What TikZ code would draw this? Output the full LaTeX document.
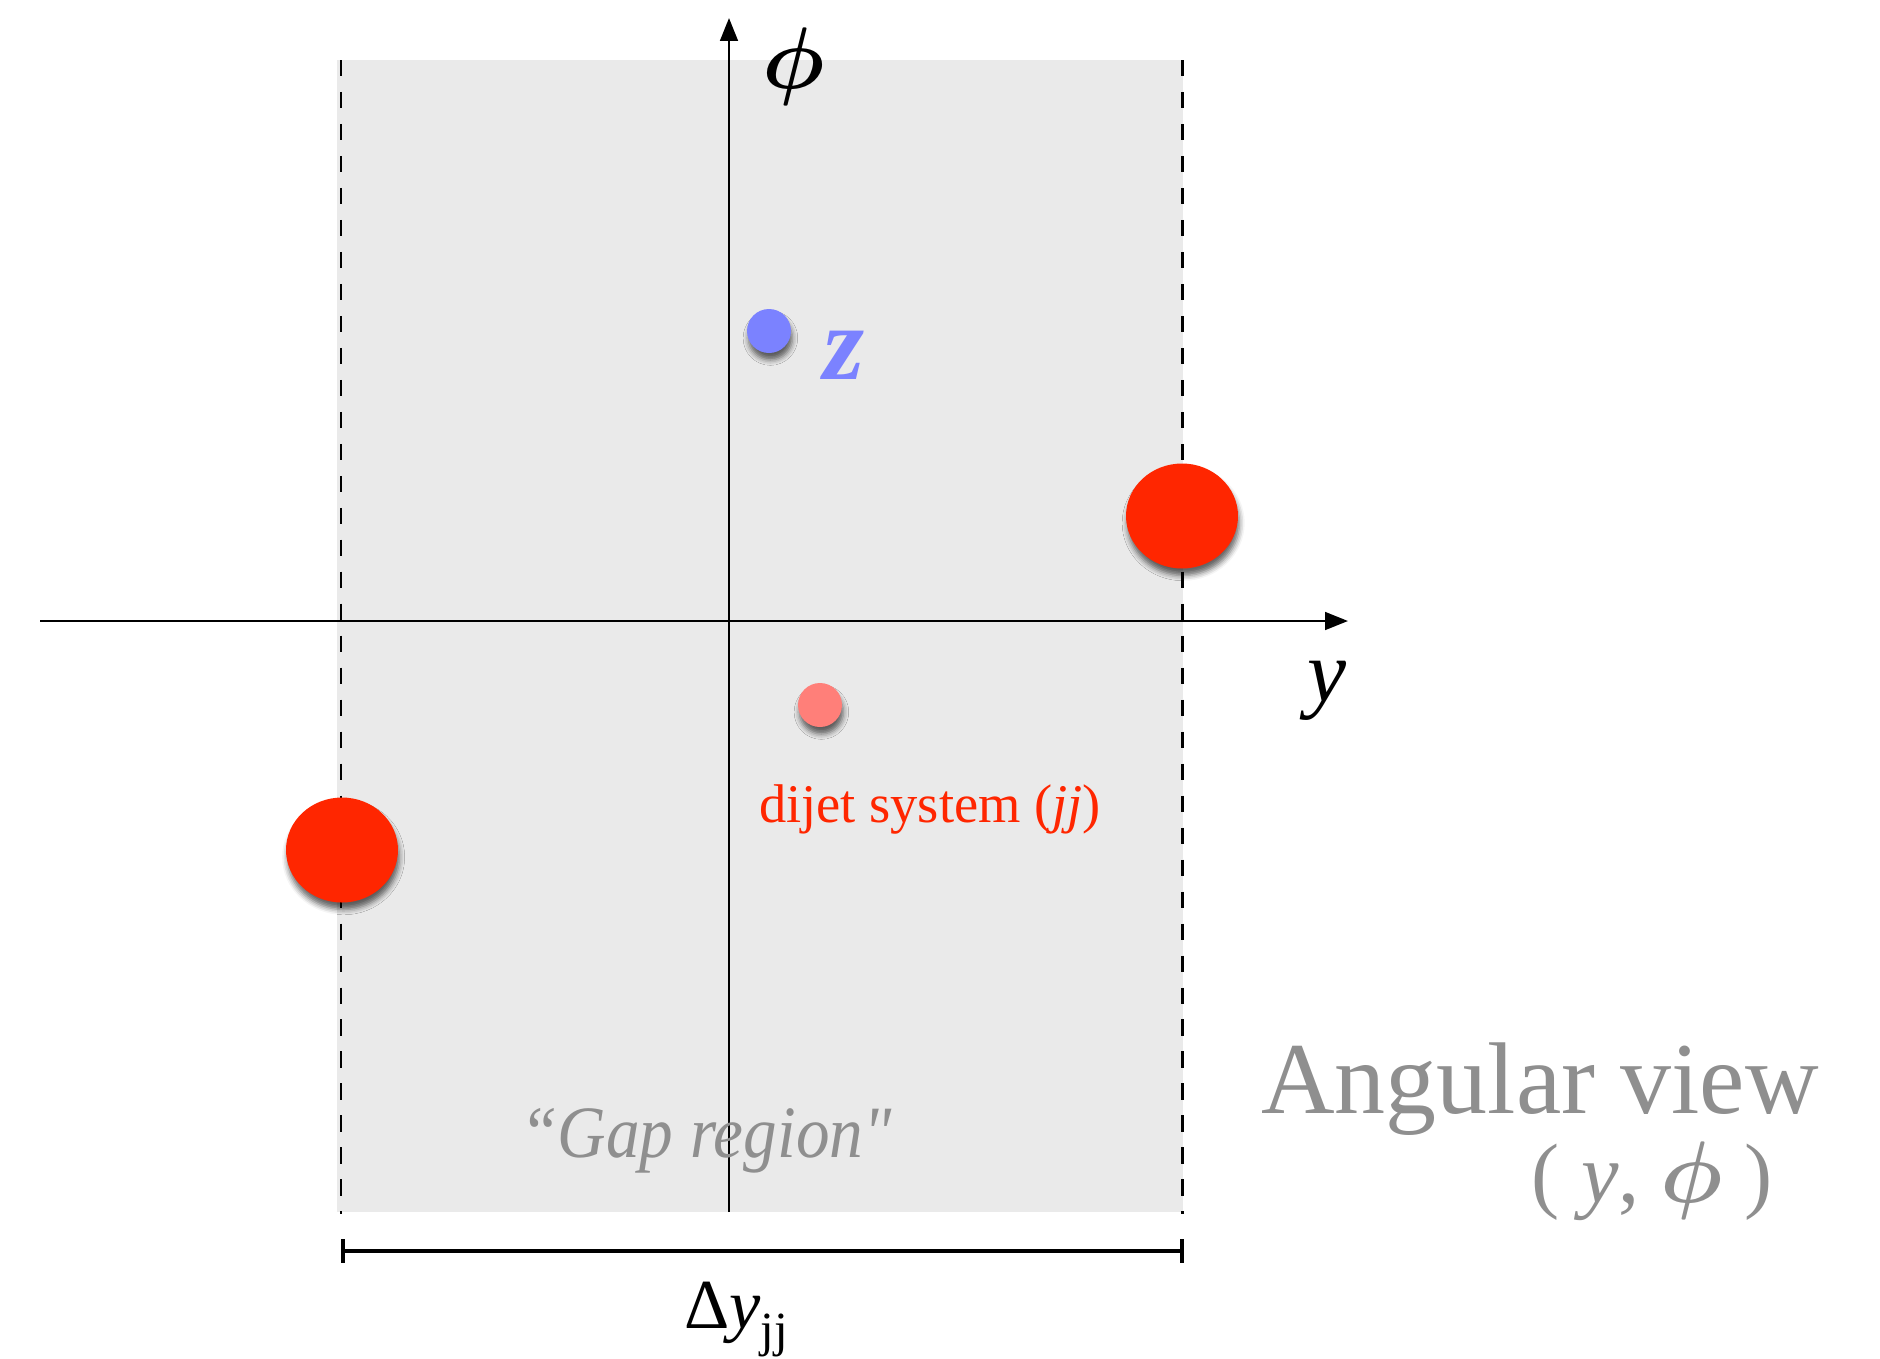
\documentclass[tikz,border=0pt]{standalone}
\usepackage{bm}
\usepackage{fontspec}
\setmainfont{Liberation Serif}
\newfontfamily\gapfont{Liberation Serif}[Ligatures=ResetAll]
\usetikzlibrary{arrows.meta,shapes.geometric,shadows.blur}
\definecolor{gapgray}{HTML}{EAEAEA}
\definecolor{zblue}{HTML}{7B82FF}
\definecolor{jetred}{HTML}{FF2600}
\definecolor{jjpink}{HTML}{FF7F79}
\definecolor{labelgray}{HTML}{8F8F8F}
\begin{document}
\begin{tikzpicture}[x=0.1mm,y=-0.1mm,
  dotshadow/.style={blur shadow={shadow xshift=0.4pt,shadow yshift=-2pt,shadow blur radius=1.5pt,shadow opacity=60}},
  axisline/.style={line width=0.75pt,-{Triangle[length=6.5pt,width=5pt]}},
  gapedge/.style={line width=0.85pt,dash pattern=on 4.6pt off 4.5pt},
  bigjet/.style={ellipse,fill=jetred,draw=none,minimum width=11.2mm,minimum height=10.5mm,inner sep=0pt,dotshadow},
  smalldot/.style={circle,draw=none,minimum size=4.4mm,inner sep=0pt,dotshadow},
  txt/.style={inner sep=0pt,outer sep=0pt}]
\useasboundingbox (0,0) rectangle (1880,1358);
% gap region
\fill[gapgray] (337,60) rectangle (1183,1212);
% axes
\coordinate (ystart) at (40,621);
\coordinate (yend) at (1348,621);
\coordinate (phistart) at (729,1212);
\coordinate (phiend) at (729,18);
\draw[axisline] (ystart) -- (yend);
\draw[axisline] (phistart) -- (phiend);
% dashed edges
\coordinate (ltop) at (341,60);
\coordinate (lbot) at (341,1214);
\coordinate (rtop) at (1182,60);
\coordinate (rbot) at (1182,1214);
\draw[gapedge] (ltop) -- (lbot);
\draw[gapedge] (rtop) -- (rbot);
% dots
\node[bigjet] (jetright) at (1182,516) {};
\node[bigjet] (jetleft) at (342,850) {};
\node[smalldot,fill=zblue] (zdot) at (769,331) {};
\node[smalldot,fill=jjpink] (jjdot) at (820,705) {};
% labels
\node[txt] (philab) at (794,67) {\fontsize{24}{28}\selectfont$\bm{\phi}$};
\node[txt] (ylab) at (1327,691) {\fontsize{25}{30}\selectfont\itshape y};
\node[txt,text=zblue] (zlab) at (844,355) {\fontsize{30}{33}\selectfont\bfseries\itshape z};
\node[txt,text=jetred] (jjlab) at (930,809) {\fontsize{15.5}{18}\selectfont dijet system (\textit{jj})};
\node[txt,text=labelgray] (gaplab) at (706,1141) {\scalebox{0.91}[1]{\fontsize{21}{25}\selectfont\gapfont\itshape “Gap region"}};
\node[txt,text=labelgray,anchor=base] (anglab) at (1540,1113) {\fontsize{29}{34}\selectfont Angular view};
\node[txt,text=labelgray] (coordlab) at (1652,1181) {\fontsize{24}{28}\selectfont( \textit{y}, $\bm{\phi}$ )};
% width bar
\coordinate (barl) at (343,1251);
\coordinate (barr) at (1182,1251);
\coordinate (barlt) at (343,1239);
\coordinate (barlb) at (343,1263);
\coordinate (barrt) at (1182,1239);
\coordinate (barrb) at (1182,1263);
\draw[line width=1.4pt] (barl) -- (barr);
\draw[line width=1.4pt] (barlt) -- (barlb);
\draw[line width=1.4pt] (barrt) -- (barrb);
\node[txt,anchor=base] (dylab) at (736,1328) {\fontsize{20}{24}\selectfont Δ\textit{y}\raisebox{-0.26em}{\fontsize{14}{16}\selectfont jj}};
\end{tikzpicture}
\end{document}
